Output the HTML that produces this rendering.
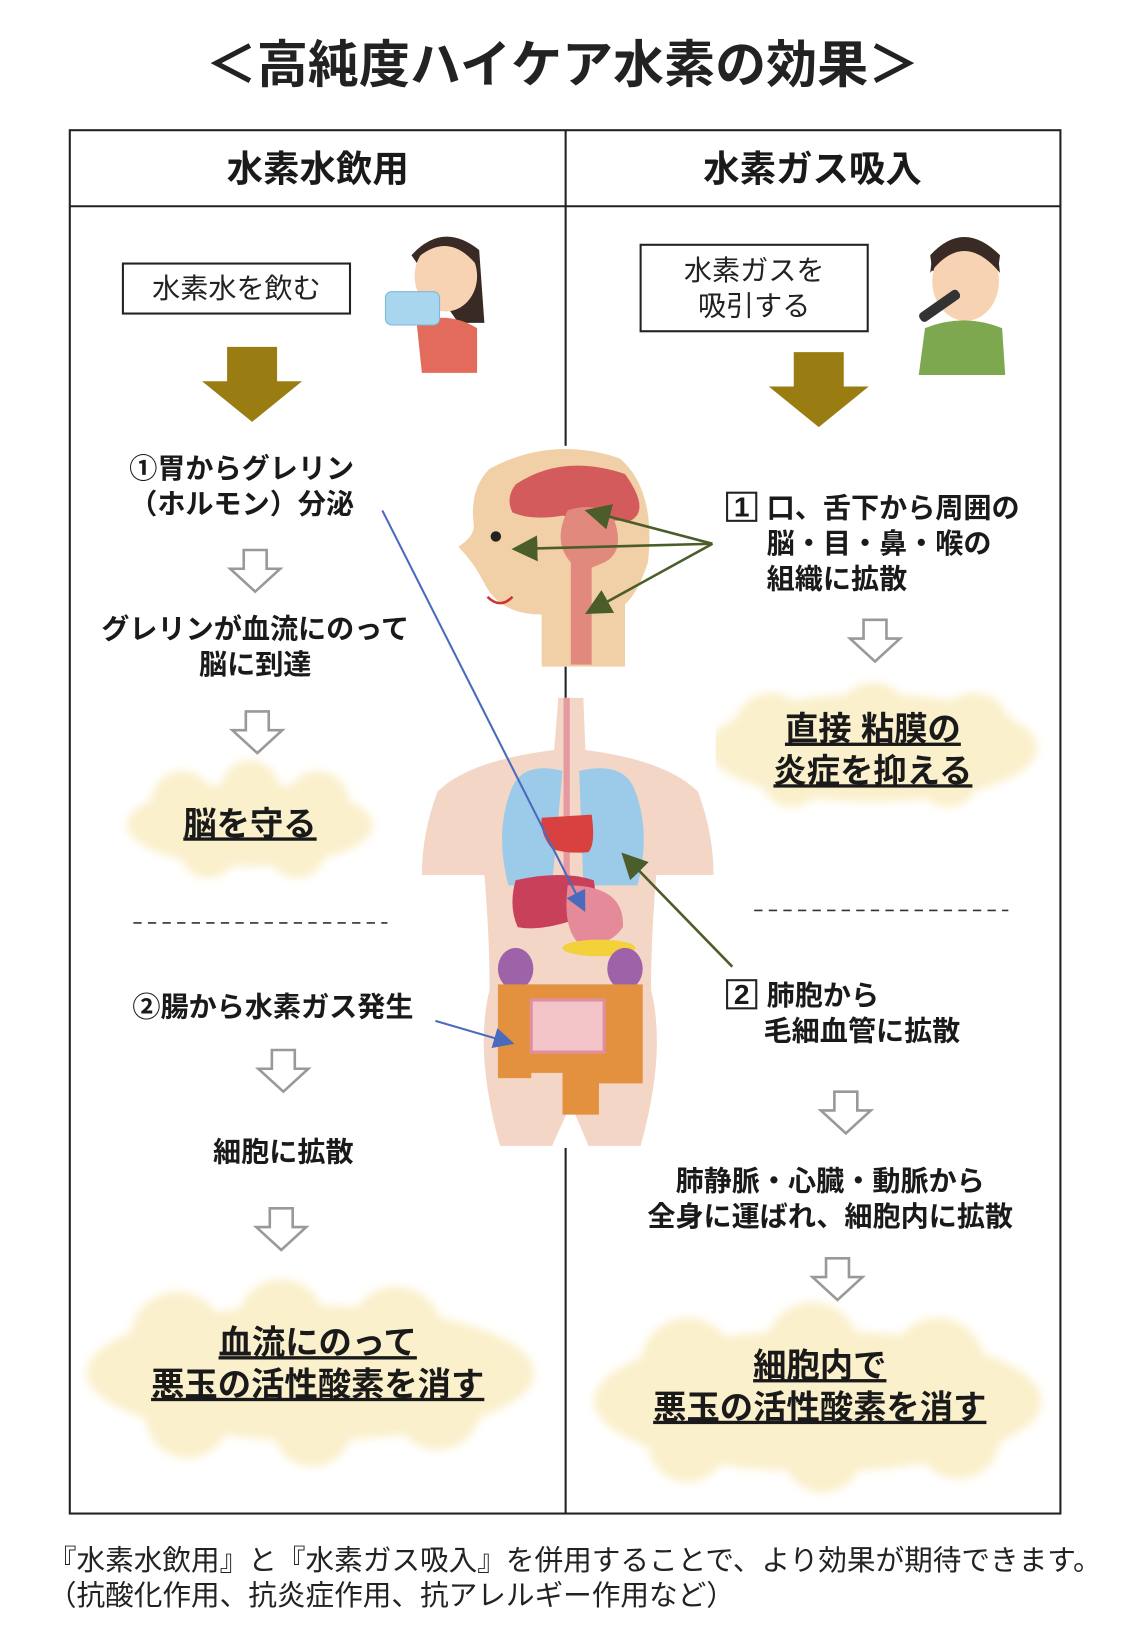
<!DOCTYPE html>
<html><head><meta charset="utf-8"><style>
html,body{margin:0;padding:0;background:#fff;}
svg{display:block;}
text{font-family:"Liberation Sans","Noto Sans CJK JP",sans-serif;}
.b{font-weight:bold;font-size:27px;fill:#1a1a1a;}
.c{font-weight:bold;font-size:32px;fill:#1a1a1a;text-decoration:underline;}
.n{font-size:27px;fill:#222;}
</style></head><body>
<svg width="1125" height="1625" viewBox="0 0 1080 1560" xmlns="http://www.w3.org/2000/svg">
<defs>
<g id="ha"><polygon points="-11,0 11,0 11,18 24,18 0,40 -24,18 -11,18" fill="#fff" stroke="#999" stroke-width="2.5"/></g>
<g id="ga"><polygon points="-24,0 24,0 24,33 48,33 0,72 -48,33 -24,33" fill="#9a7d12"/></g>
<filter id="bl"><feGaussianBlur stdDeviation="4"/></filter>
<marker id="mb" markerWidth="10" markerHeight="10" refX="8" refY="5" orient="auto"><path d="M0,0 L10,5 L0,10 z" fill="#4a6bbd"/></marker>
<marker id="mg" markerWidth="10" markerHeight="10" refX="8" refY="5" orient="auto"><path d="M0,0 L10,5 L0,10 z" fill="#4b5e2a"/></marker>
</defs>
<text x="540" y="79" text-anchor="middle" font-size="49" font-weight="bold" fill="#222">＜高純度ハイケア水素の効果＞</text>
<rect x="67" y="125" width="951" height="1328" fill="none" stroke="#222" stroke-width="2"/>
<line x1="67" y1="198" x2="1018" y2="198" stroke="#222" stroke-width="2"/>
<line x1="543" y1="125" x2="543" y2="1453" stroke="#222" stroke-width="2"/>
<text x="305" y="174" text-anchor="middle" class="b" style="font-size:35px">水素水飲用</text>
<text x="780" y="174" text-anchor="middle" class="b" style="font-size:35px">水素ガス吸入</text>
<rect x="118" y="253" width="218" height="48" fill="#fff" stroke="#222" stroke-width="2"/>
<text x="227" y="286" text-anchor="middle" class="n">水素水を飲む</text>
<g>
<path d="M395,245 Q425,212 460,240 L465,310 L440,310 Z" fill="#3a2a25"/>
<ellipse cx="428" cy="265" rx="30" ry="34" fill="#f7d3b4"/>
<path d="M398,250 Q430,220 458,255 L455,240 Q430,215 400,240Z" fill="#3a2a25"/>
<path d="M400,310 Q430,298 458,315 L458,358 L405,358Z" fill="#e26b5c"/>
<rect x="370" y="280" width="52" height="32" rx="6" fill="#a9d6ef" stroke="#7fb6d6"/>
</g>
<use href="#ga" x="242" y="333"/>
<text x="232" y="459" text-anchor="middle" class="b">①胃からグレリン</text>
<text x="232" y="493" text-anchor="middle" class="b">（ホルモン）分泌</text>
<use href="#ha" x="245" y="528"/>
<text x="245" y="613" text-anchor="middle" class="b">グレリンが血流にのって</text>
<text x="245" y="647" text-anchor="middle" class="b">脳に到達</text>
<use href="#ha" x="247" y="683"/>
<g fill="#fbf0cc" filter="url(#bl)">
<ellipse cx="240" cy="792" rx="118" ry="40"/><circle cx="175" cy="770" r="30"/><circle cx="240" cy="758" r="28"/><circle cx="305" cy="770" r="30"/><circle cx="200" cy="815" r="28"/><circle cx="285" cy="815" r="28"/>
</g>
<text x="240" y="802" text-anchor="middle" class="c">脳を守る</text>
<line x1="128" y1="886" x2="372" y2="886" stroke="#333" stroke-width="1.5" stroke-dasharray="8,6"/>
<text x="262" y="976" text-anchor="middle" class="b">②腸から水素ガス発生</text>
<use href="#ha" x="272" y="1008"/>
<text x="272" y="1115" text-anchor="middle" class="b">細胞に拡散</text>
<use href="#ha" x="270" y="1160"/>
<g fill="#fbf0cc" filter="url(#bl)">
<ellipse cx="298" cy="1318" rx="215" ry="65"/><circle cx="170" cy="1285" r="45"/><circle cx="270" cy="1270" r="42"/><circle cx="380" cy="1280" r="45"/><circle cx="180" cy="1360" r="40"/><circle cx="300" cy="1370" r="38"/><circle cx="420" cy="1350" r="42"/>
</g>
<text x="305" y="1300" text-anchor="middle" class="c">血流にのって</text>
<text x="305" y="1340" text-anchor="middle" class="c">悪玉の活性酸素を消す</text>
<rect x="615" y="235" width="218" height="83" fill="#fff" stroke="#222" stroke-width="2"/>
<text x="724" y="269" text-anchor="middle" class="n">水素ガスを</text>
<text x="724" y="303" text-anchor="middle" class="n">吸引する</text>
<g>
<path d="M893,245 Q925,210 960,245 L958,260 L895,260Z" fill="#3a2a25"/>
<ellipse cx="927" cy="270" rx="32" ry="38" fill="#f7d3b4"/>
<path d="M893,262 Q925,220 960,262 L958,245 Q925,212 895,245Z" fill="#3a2a25"/>
<path d="M888,315 Q925,300 962,315 L965,360 L882,360Z" fill="#7da84f"/>
<rect x="880" y="290" width="45" height="10" rx="4" fill="#333" transform="rotate(-35 900 295)"/>
</g>
<use href="#ga" x="786" y="338"/>
<rect x="698" y="473" width="28" height="27" fill="none" stroke="#222" stroke-width="2"/>
<text x="712" y="496" text-anchor="middle" class="b">1</text>
<text x="736" y="497" class="b">口、舌下から周囲の</text>
<text x="736" y="531" class="b">脳・目・鼻・喉の</text>
<text x="736" y="565" class="b">組織に拡散</text>
<use href="#ha" x="840" y="595"/>
<g fill="#fbf0cc" filter="url(#bl)">
<ellipse cx="838" cy="718" rx="158" ry="52"/><circle cx="740" cy="700" r="35"/><circle cx="838" cy="690" r="35"/><circle cx="935" cy="700" r="35"/><circle cx="760" cy="745" r="30"/><circle cx="910" cy="745" r="30"/>
</g>
<text x="838" y="711" text-anchor="middle" class="c">直接 粘膜の</text>
<text x="838" y="751" text-anchor="middle" class="c">炎症を抑える</text>
<line x1="724" y1="874" x2="968" y2="874" stroke="#333" stroke-width="1.5" stroke-dasharray="8,6"/>
<rect x="698" y="941" width="28" height="27" fill="none" stroke="#222" stroke-width="2"/>
<text x="712" y="964" text-anchor="middle" class="b">2</text>
<text x="736" y="965" class="b">肺胞から</text>
<text x="733" y="999" class="b">毛細血管に拡散</text>
<use href="#ha" x="812" y="1048"/>
<text x="797" y="1143" text-anchor="middle" class="b">肺静脈・心臓・動脈から</text>
<text x="797" y="1177" text-anchor="middle" class="b">全身に運ばれ、細胞内に拡散</text>
<use href="#ha" x="804" y="1208"/>
<g fill="#fbf0cc" filter="url(#bl)">
<ellipse cx="785" cy="1345" rx="215" ry="68"/><circle cx="660" cy="1310" r="45"/><circle cx="780" cy="1295" r="45"/><circle cx="900" cy="1310" r="45"/><circle cx="660" cy="1385" r="38"/><circle cx="790" cy="1395" r="38"/><circle cx="920" cy="1380" r="40"/>
</g>
<text x="787" y="1322" text-anchor="middle" class="c">細胞内で</text>
<text x="787" y="1362" text-anchor="middle" class="c">悪玉の活性酸素を消す</text>
<rect x="437" y="428" width="205" height="212" fill="#fff"/>
<path d="M470,450 Q530,418 595,440 Q630,470 622,540 Q612,570 600,580 L600,640 L520,640 L520,590 Q480,590 465,560 Q455,540 440,525 Q455,515 455,505 Q450,470 470,450Z" fill="#f1d0a8"/>
<path d="M495,465 Q540,435 600,455 Q625,490 605,500 Q570,500 540,495 Q510,500 492,492 Q485,478 495,465Z" fill="#d45b5b"/>
<path d="M545,490 Q575,480 590,500 Q600,530 580,540 L568,545 L568,638 L548,638 L548,540 Q530,520 545,490Z" fill="#e2897e"/>
<circle cx="476" cy="515" r="5" fill="#222"/>
<path d="M468,573 Q480,585 492,573" fill="none" stroke="#c33" stroke-width="2.5"/>
<rect x="405" y="670" width="282" height="432" fill="#fff"/>
<path d="M536,670 L560,670 L562,720 Q640,730 670,760 Q685,800 685,840 L630,840 Q625,900 625,950 Q640,1010 615,1100 L565,1100 L548,1060 L530,1100 L480,1100 Q455,1010 470,950 Q470,900 465,840 L405,840 Q405,800 420,760 Q450,730 532,720Z" fill="#f3d6c6"/>
<path d="M540,740 Q500,730 490,760 Q475,800 488,850 L530,850 Z" fill="#9ccbe9"/>
<path d="M556,740 Q600,730 610,760 Q625,800 612,850 L560,850 Z" fill="#9ccbe9"/>
<rect x="541" y="670" width="6" height="180" fill="#e59aa0"/>
<path d="M520,785 L568,782 Q572,810 565,818 Q545,820 530,815 Q518,800 520,785Z" fill="#d8413f"/>
<path d="M495,845 Q540,835 570,845 Q575,870 560,880 Q520,895 497,890 Q488,870 495,845Z" fill="#c8405a"/>
<path d="M545,850 Q600,850 598,890 Q585,910 555,905 Q540,890 545,850Z" fill="#e58a98"/>
<ellipse cx="575" cy="910" rx="35" ry="8" fill="#f2d13b"/>
<ellipse cx="495" cy="930" rx="17" ry="20" fill="#9e62a8"/>
<ellipse cx="600" cy="930" rx="17" ry="20" fill="#9e62a8"/>
<path d="M478,945 L617,945 L617,1040 L575,1040 L575,1070 L540,1070 L540,1030 L510,1030 L510,1035 L478,1035 Z" fill="#e3913e"/>
<rect x="510" y="960" width="70" height="50" fill="#f3c4c8" stroke="#e08fa0" stroke-width="3"/>
<line x1="367" y1="490" x2="560" y2="872" stroke="#4a6bbd" stroke-width="2" marker-end="url(#mb)"/>
<line x1="418" y1="980" x2="490" y2="1001" stroke="#4a6bbd" stroke-width="2" marker-end="url(#mb)"/>
<line x1="684" y1="522" x2="566" y2="491" stroke="#4b5e2a" stroke-width="2.5" marker-end="url(#mg)"/>
<line x1="684" y1="522" x2="496" y2="527" stroke="#4b5e2a" stroke-width="2.5" marker-end="url(#mg)"/>
<line x1="684" y1="522" x2="566" y2="587" stroke="#4b5e2a" stroke-width="2.5" marker-end="url(#mg)"/>
<line x1="703" y1="928" x2="600" y2="822" stroke="#4b5e2a" stroke-width="2.5" marker-end="url(#mg)"/>
<text x="46" y="1507" font-size="27.5" fill="#222">『水素水飲用』と『水素ガス吸入』を併用することで、より効果が期待できます。</text>
<text x="46" y="1541" font-size="27.5" fill="#222">（抗酸化作用、抗炎症作用、抗アレルギー作用など）</text>
</svg>
</body></html>
